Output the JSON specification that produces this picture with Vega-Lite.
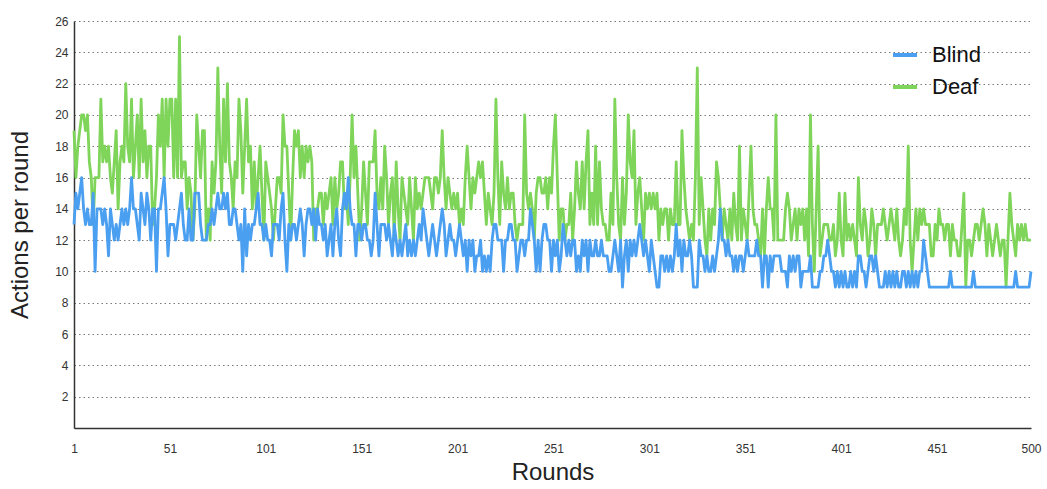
{
  "$schema": "https://vega.github.io/schema/vega-lite/v6.json",
  "width": 957,
  "height": 407,
  "autosize": {"type": "none"},
  "padding": {"left": 74, "top": 21, "right": 16, "bottom": 61},
  "background": "white",
  "config": {"view": {"stroke": null}, "font": "Liberation Sans"},
  "datasets": {
    "rounds": [
      {"r":1,"Blind":13,"Deaf":19},{"r":2,"Blind":15,"Deaf":16},{"r":3,"Blind":14,"Deaf":18},{"r":4,"Blind":15,"Deaf":19},{"r":5,"Blind":16,"Deaf":20},{"r":6,"Blind":14,"Deaf":20},{"r":7,"Blind":13,"Deaf":19},{"r":8,"Blind":14,"Deaf":20},{"r":9,"Blind":13,"Deaf":17},{"r":10,"Blind":13,"Deaf":16},
      {"r":11,"Blind":15,"Deaf":13},{"r":12,"Blind":10,"Deaf":16},{"r":13,"Blind":14,"Deaf":16},{"r":14,"Blind":14,"Deaf":16},{"r":15,"Blind":14,"Deaf":21},{"r":16,"Blind":13,"Deaf":17},{"r":17,"Blind":14,"Deaf":18},{"r":18,"Blind":13,"Deaf":17},{"r":19,"Blind":11,"Deaf":18},{"r":20,"Blind":14,"Deaf":16},
      {"r":21,"Blind":13,"Deaf":15},{"r":22,"Blind":12,"Deaf":17},{"r":23,"Blind":13,"Deaf":19},{"r":24,"Blind":12,"Deaf":14},{"r":25,"Blind":13,"Deaf":17},{"r":26,"Blind":14,"Deaf":18},{"r":27,"Blind":13,"Deaf":17},{"r":28,"Blind":14,"Deaf":22},{"r":29,"Blind":13,"Deaf":18},{"r":30,"Blind":14,"Deaf":17},
      {"r":31,"Blind":16,"Deaf":21},{"r":32,"Blind":14,"Deaf":16},{"r":33,"Blind":14,"Deaf":18},{"r":34,"Blind":13,"Deaf":20},{"r":35,"Blind":12,"Deaf":16},{"r":36,"Blind":15,"Deaf":21},{"r":37,"Blind":14,"Deaf":17},{"r":38,"Blind":13,"Deaf":19},{"r":39,"Blind":15,"Deaf":16},{"r":40,"Blind":14,"Deaf":18},
      {"r":41,"Blind":12,"Deaf":18},{"r":42,"Blind":14,"Deaf":13},{"r":43,"Blind":14,"Deaf":14},{"r":44,"Blind":10,"Deaf":16},{"r":45,"Blind":14,"Deaf":20},{"r":46,"Blind":14,"Deaf":18},{"r":47,"Blind":15,"Deaf":21},{"r":48,"Blind":16,"Deaf":16},{"r":49,"Blind":14,"Deaf":21},{"r":50,"Blind":11,"Deaf":18},
      {"r":51,"Blind":13,"Deaf":21},{"r":52,"Blind":13,"Deaf":21},{"r":53,"Blind":13,"Deaf":16},{"r":54,"Blind":12,"Deaf":21},{"r":55,"Blind":13,"Deaf":16},{"r":56,"Blind":14,"Deaf":25},{"r":57,"Blind":15,"Deaf":16},{"r":58,"Blind":13,"Deaf":17},{"r":59,"Blind":12,"Deaf":17},{"r":60,"Blind":12,"Deaf":14},
      {"r":61,"Blind":14,"Deaf":16},{"r":62,"Blind":12,"Deaf":15},{"r":63,"Blind":12,"Deaf":12},{"r":64,"Blind":15,"Deaf":14},{"r":65,"Blind":15,"Deaf":20},{"r":66,"Blind":15,"Deaf":18},{"r":67,"Blind":13,"Deaf":16},{"r":68,"Blind":12,"Deaf":19},{"r":69,"Blind":12,"Deaf":19},{"r":70,"Blind":12,"Deaf":12},
      {"r":71,"Blind":13,"Deaf":14},{"r":72,"Blind":13,"Deaf":12},{"r":73,"Blind":14,"Deaf":17},{"r":74,"Blind":13,"Deaf":15},{"r":75,"Blind":14,"Deaf":17},{"r":76,"Blind":15,"Deaf":23},{"r":77,"Blind":14,"Deaf":18},{"r":78,"Blind":14,"Deaf":15},{"r":79,"Blind":15,"Deaf":21},{"r":80,"Blind":14,"Deaf":17},
      {"r":81,"Blind":15,"Deaf":22},{"r":82,"Blind":13,"Deaf":17},{"r":83,"Blind":13,"Deaf":16},{"r":84,"Blind":14,"Deaf":14},{"r":85,"Blind":14,"Deaf":17},{"r":86,"Blind":13,"Deaf":16},{"r":87,"Blind":12,"Deaf":21},{"r":88,"Blind":13,"Deaf":19},{"r":89,"Blind":10,"Deaf":15},{"r":90,"Blind":14,"Deaf":18},
      {"r":91,"Blind":11,"Deaf":21},{"r":92,"Blind":13,"Deaf":17},{"r":93,"Blind":12,"Deaf":18},{"r":94,"Blind":13,"Deaf":14},{"r":95,"Blind":13,"Deaf":17},{"r":96,"Blind":14,"Deaf":14},{"r":97,"Blind":15,"Deaf":16},{"r":98,"Blind":13,"Deaf":18},{"r":99,"Blind":13,"Deaf":15},{"r":100,"Blind":12,"Deaf":12},
      {"r":101,"Blind":13,"Deaf":17},{"r":102,"Blind":12,"Deaf":16},{"r":103,"Blind":12,"Deaf":15},{"r":104,"Blind":11,"Deaf":14},{"r":105,"Blind":13,"Deaf":12},{"r":106,"Blind":13,"Deaf":14},{"r":107,"Blind":13,"Deaf":16},{"r":108,"Blind":12,"Deaf":16},{"r":109,"Blind":14,"Deaf":15},{"r":110,"Blind":15,"Deaf":20},
      {"r":111,"Blind":12,"Deaf":18},{"r":112,"Blind":10,"Deaf":18},{"r":113,"Blind":13,"Deaf":15},{"r":114,"Blind":12,"Deaf":12},{"r":115,"Blind":13,"Deaf":16},{"r":116,"Blind":13,"Deaf":19},{"r":117,"Blind":12,"Deaf":18},{"r":118,"Blind":13,"Deaf":19},{"r":119,"Blind":14,"Deaf":16},{"r":120,"Blind":13,"Deaf":18},
      {"r":121,"Blind":11,"Deaf":16},{"r":122,"Blind":13,"Deaf":18},{"r":123,"Blind":14,"Deaf":17},{"r":124,"Blind":14,"Deaf":18},{"r":125,"Blind":13,"Deaf":17},{"r":126,"Blind":14,"Deaf":12},{"r":127,"Blind":12,"Deaf":14},{"r":128,"Blind":14,"Deaf":14},{"r":129,"Blind":13,"Deaf":15},{"r":130,"Blind":13,"Deaf":15},
      {"r":131,"Blind":12,"Deaf":13},{"r":132,"Blind":13,"Deaf":15},{"r":133,"Blind":11,"Deaf":14},{"r":134,"Blind":12,"Deaf":15},{"r":135,"Blind":13,"Deaf":16},{"r":136,"Blind":11,"Deaf":13},{"r":137,"Blind":13,"Deaf":16},{"r":138,"Blind":14,"Deaf":14},{"r":139,"Blind":12,"Deaf":15},{"r":140,"Blind":11,"Deaf":17},
      {"r":141,"Blind":14,"Deaf":17},{"r":142,"Blind":15,"Deaf":14},{"r":143,"Blind":14,"Deaf":15},{"r":144,"Blind":16,"Deaf":13},{"r":145,"Blind":14,"Deaf":16},{"r":146,"Blind":13,"Deaf":20},{"r":147,"Blind":13,"Deaf":16},{"r":148,"Blind":11,"Deaf":18},{"r":149,"Blind":13,"Deaf":15},{"r":150,"Blind":13,"Deaf":12},
      {"r":151,"Blind":12,"Deaf":14},{"r":152,"Blind":13,"Deaf":17},{"r":153,"Blind":13,"Deaf":15},{"r":154,"Blind":12,"Deaf":13},{"r":155,"Blind":12,"Deaf":17},{"r":156,"Blind":11,"Deaf":17},{"r":157,"Blind":12,"Deaf":17},{"r":158,"Blind":15,"Deaf":19},{"r":159,"Blind":13,"Deaf":15},{"r":160,"Blind":11,"Deaf":14},
      {"r":161,"Blind":13,"Deaf":16},{"r":162,"Blind":13,"Deaf":14},{"r":163,"Blind":13,"Deaf":18},{"r":164,"Blind":12,"Deaf":16},{"r":165,"Blind":13,"Deaf":13},{"r":166,"Blind":12,"Deaf":15},{"r":167,"Blind":11,"Deaf":16},{"r":168,"Blind":13,"Deaf":12},{"r":169,"Blind":12,"Deaf":17},{"r":170,"Blind":11,"Deaf":14},
      {"r":171,"Blind":12,"Deaf":12},{"r":172,"Blind":11,"Deaf":16},{"r":173,"Blind":12,"Deaf":15},{"r":174,"Blind":13,"Deaf":14},{"r":175,"Blind":11,"Deaf":13},{"r":176,"Blind":12,"Deaf":16},{"r":177,"Blind":11,"Deaf":14},{"r":178,"Blind":12,"Deaf":12},{"r":179,"Blind":11,"Deaf":16},{"r":180,"Blind":12,"Deaf":14},
      {"r":181,"Blind":13,"Deaf":15},{"r":182,"Blind":12,"Deaf":14},{"r":183,"Blind":14,"Deaf":15},{"r":184,"Blind":13,"Deaf":16},{"r":185,"Blind":12,"Deaf":16},{"r":186,"Blind":11,"Deaf":16},{"r":187,"Blind":12,"Deaf":15},{"r":188,"Blind":13,"Deaf":14},{"r":189,"Blind":12,"Deaf":16},{"r":190,"Blind":11,"Deaf":16},
      {"r":191,"Blind":12,"Deaf":15},{"r":192,"Blind":13,"Deaf":16},{"r":193,"Blind":14,"Deaf":19},{"r":194,"Blind":13,"Deaf":16},{"r":195,"Blind":11,"Deaf":14},{"r":196,"Blind":12,"Deaf":16},{"r":197,"Blind":13,"Deaf":15},{"r":198,"Blind":12,"Deaf":14},{"r":199,"Blind":12,"Deaf":15},{"r":200,"Blind":11,"Deaf":14},
      {"r":201,"Blind":12,"Deaf":15},{"r":202,"Blind":13,"Deaf":13},{"r":203,"Blind":12,"Deaf":14},{"r":204,"Blind":11,"Deaf":13},{"r":205,"Blind":12,"Deaf":16},{"r":206,"Blind":10,"Deaf":18},{"r":207,"Blind":12,"Deaf":16},{"r":208,"Blind":11,"Deaf":14},{"r":209,"Blind":12,"Deaf":16},{"r":210,"Blind":10,"Deaf":15},
      {"r":211,"Blind":11,"Deaf":16},{"r":212,"Blind":11,"Deaf":17},{"r":213,"Blind":12,"Deaf":16},{"r":214,"Blind":10,"Deaf":17},{"r":215,"Blind":11,"Deaf":15},{"r":216,"Blind":10,"Deaf":13},{"r":217,"Blind":11,"Deaf":15},{"r":218,"Blind":10,"Deaf":14},{"r":219,"Blind":12,"Deaf":13},{"r":220,"Blind":13,"Deaf":15},
      {"r":221,"Blind":13,"Deaf":21},{"r":222,"Blind":12,"Deaf":16},{"r":223,"Blind":12,"Deaf":13},{"r":224,"Blind":12,"Deaf":17},{"r":225,"Blind":10,"Deaf":15},{"r":226,"Blind":12,"Deaf":14},{"r":227,"Blind":12,"Deaf":16},{"r":228,"Blind":13,"Deaf":14},{"r":229,"Blind":13,"Deaf":15},{"r":230,"Blind":12,"Deaf":15},
      {"r":231,"Blind":12,"Deaf":13},{"r":232,"Blind":10,"Deaf":12},{"r":233,"Blind":11,"Deaf":13},{"r":234,"Blind":12,"Deaf":13},{"r":235,"Blind":12,"Deaf":13},{"r":236,"Blind":11,"Deaf":20},{"r":237,"Blind":12,"Deaf":15},{"r":238,"Blind":12,"Deaf":14},{"r":239,"Blind":14,"Deaf":15},{"r":240,"Blind":13,"Deaf":14},
      {"r":241,"Blind":12,"Deaf":12},{"r":242,"Blind":10,"Deaf":15},{"r":243,"Blind":12,"Deaf":16},{"r":244,"Blind":10,"Deaf":16},{"r":245,"Blind":12,"Deaf":15},{"r":246,"Blind":13,"Deaf":15},{"r":247,"Blind":13,"Deaf":16},{"r":248,"Blind":12,"Deaf":14},{"r":249,"Blind":12,"Deaf":16},{"r":250,"Blind":10,"Deaf":15},
      {"r":251,"Blind":12,"Deaf":18},{"r":252,"Blind":11,"Deaf":20},{"r":253,"Blind":12,"Deaf":16},{"r":254,"Blind":10,"Deaf":12},{"r":255,"Blind":11,"Deaf":14},{"r":256,"Blind":13,"Deaf":14},{"r":257,"Blind":12,"Deaf":12},{"r":258,"Blind":11,"Deaf":13},{"r":259,"Blind":12,"Deaf":13},{"r":260,"Blind":11,"Deaf":15},
      {"r":261,"Blind":12,"Deaf":12},{"r":262,"Blind":12,"Deaf":14},{"r":263,"Blind":10,"Deaf":17},{"r":264,"Blind":11,"Deaf":15},{"r":265,"Blind":10,"Deaf":14},{"r":266,"Blind":12,"Deaf":17},{"r":267,"Blind":11,"Deaf":14},{"r":268,"Blind":12,"Deaf":17},{"r":269,"Blind":10,"Deaf":19},{"r":270,"Blind":12,"Deaf":13},
      {"r":271,"Blind":11,"Deaf":15},{"r":272,"Blind":11,"Deaf":13},{"r":273,"Blind":12,"Deaf":18},{"r":274,"Blind":11,"Deaf":13},{"r":275,"Blind":11,"Deaf":17},{"r":276,"Blind":12,"Deaf":14},{"r":277,"Blind":11,"Deaf":13},{"r":278,"Blind":11,"Deaf":13},{"r":279,"Blind":11,"Deaf":12},{"r":280,"Blind":10,"Deaf":12},
      {"r":281,"Blind":10,"Deaf":15},{"r":282,"Blind":11,"Deaf":13},{"r":283,"Blind":12,"Deaf":21},{"r":284,"Blind":11,"Deaf":16},{"r":285,"Blind":10,"Deaf":13},{"r":286,"Blind":12,"Deaf":12},{"r":287,"Blind":9,"Deaf":16},{"r":288,"Blind":11,"Deaf":13},{"r":289,"Blind":12,"Deaf":15},{"r":290,"Blind":10,"Deaf":20},
      {"r":291,"Blind":12,"Deaf":17},{"r":292,"Blind":11,"Deaf":16},{"r":293,"Blind":12,"Deaf":19},{"r":294,"Blind":11,"Deaf":13},{"r":295,"Blind":12,"Deaf":15},{"r":296,"Blind":13,"Deaf":16},{"r":297,"Blind":12,"Deaf":14},{"r":298,"Blind":11,"Deaf":12},{"r":299,"Blind":12,"Deaf":15},{"r":300,"Blind":11,"Deaf":14},
      {"r":301,"Blind":10,"Deaf":15},{"r":302,"Blind":12,"Deaf":14},{"r":303,"Blind":11,"Deaf":15},{"r":304,"Blind":10,"Deaf":14},{"r":305,"Blind":9,"Deaf":15},{"r":306,"Blind":9,"Deaf":12},{"r":307,"Blind":11,"Deaf":14},{"r":308,"Blind":11,"Deaf":13},{"r":309,"Blind":10,"Deaf":14},{"r":310,"Blind":11,"Deaf":14},
      {"r":311,"Blind":10,"Deaf":12},{"r":312,"Blind":11,"Deaf":14},{"r":313,"Blind":10,"Deaf":13},{"r":314,"Blind":11,"Deaf":13},{"r":315,"Blind":13,"Deaf":17},{"r":316,"Blind":11,"Deaf":13},{"r":317,"Blind":12,"Deaf":13},{"r":318,"Blind":10,"Deaf":19},{"r":319,"Blind":12,"Deaf":16},{"r":320,"Blind":11,"Deaf":14},
      {"r":321,"Blind":11,"Deaf":13},{"r":322,"Blind":12,"Deaf":12},{"r":323,"Blind":11,"Deaf":13},{"r":324,"Blind":9,"Deaf":12},{"r":325,"Blind":9,"Deaf":16},{"r":326,"Blind":9,"Deaf":23},{"r":327,"Blind":12,"Deaf":13},{"r":328,"Blind":11,"Deaf":16},{"r":329,"Blind":11,"Deaf":14},{"r":330,"Blind":10,"Deaf":12},
      {"r":331,"Blind":11,"Deaf":11},{"r":332,"Blind":10,"Deaf":14},{"r":333,"Blind":10,"Deaf":12},{"r":334,"Blind":11,"Deaf":14},{"r":335,"Blind":10,"Deaf":13},{"r":336,"Blind":11,"Deaf":17},{"r":337,"Blind":12,"Deaf":16},{"r":338,"Blind":14,"Deaf":14},{"r":339,"Blind":12,"Deaf":12},{"r":340,"Blind":12,"Deaf":14},
      {"r":341,"Blind":11,"Deaf":13},{"r":342,"Blind":12,"Deaf":12},{"r":343,"Blind":11,"Deaf":14},{"r":344,"Blind":11,"Deaf":12},{"r":345,"Blind":10,"Deaf":15},{"r":346,"Blind":11,"Deaf":13},{"r":347,"Blind":10,"Deaf":12},{"r":348,"Blind":11,"Deaf":18},{"r":349,"Blind":11,"Deaf":12},{"r":350,"Blind":10,"Deaf":14},
      {"r":351,"Blind":11,"Deaf":13},{"r":352,"Blind":12,"Deaf":12},{"r":353,"Blind":11,"Deaf":15},{"r":354,"Blind":11,"Deaf":18},{"r":355,"Blind":11,"Deaf":14},{"r":356,"Blind":11,"Deaf":13},{"r":357,"Blind":12,"Deaf":13},{"r":358,"Blind":11,"Deaf":12},{"r":359,"Blind":11,"Deaf":11},{"r":360,"Blind":9,"Deaf":14},
      {"r":361,"Blind":11,"Deaf":11},{"r":362,"Blind":11,"Deaf":14},{"r":363,"Blind":9,"Deaf":16},{"r":364,"Blind":11,"Deaf":14},{"r":365,"Blind":10,"Deaf":14},{"r":366,"Blind":11,"Deaf":12},{"r":367,"Blind":11,"Deaf":20},{"r":368,"Blind":11,"Deaf":12},{"r":369,"Blind":11,"Deaf":12},{"r":370,"Blind":10,"Deaf":12},
      {"r":371,"Blind":10,"Deaf":12},{"r":372,"Blind":10,"Deaf":14},{"r":373,"Blind":9,"Deaf":15},{"r":374,"Blind":11,"Deaf":14},{"r":375,"Blind":10,"Deaf":12},{"r":376,"Blind":11,"Deaf":13},{"r":377,"Blind":10,"Deaf":14},{"r":378,"Blind":11,"Deaf":12},{"r":379,"Blind":11,"Deaf":14},{"r":380,"Blind":9,"Deaf":13},
      {"r":381,"Blind":10,"Deaf":14},{"r":382,"Blind":10,"Deaf":12},{"r":383,"Blind":10,"Deaf":14},{"r":384,"Blind":10,"Deaf":11},{"r":385,"Blind":11,"Deaf":20},{"r":386,"Blind":9,"Deaf":13},{"r":387,"Blind":9,"Deaf":10},{"r":388,"Blind":9,"Deaf":14},{"r":389,"Blind":9,"Deaf":18},{"r":390,"Blind":10,"Deaf":11},
      {"r":391,"Blind":10,"Deaf":12},{"r":392,"Blind":11,"Deaf":13},{"r":393,"Blind":11,"Deaf":13},{"r":394,"Blind":12,"Deaf":13},{"r":395,"Blind":11,"Deaf":12},{"r":396,"Blind":10,"Deaf":12},{"r":397,"Blind":10,"Deaf":13},{"r":398,"Blind":9,"Deaf":11},{"r":399,"Blind":10,"Deaf":12},{"r":400,"Blind":9,"Deaf":15},
      {"r":401,"Blind":10,"Deaf":12},{"r":402,"Blind":9,"Deaf":11},{"r":403,"Blind":10,"Deaf":15},{"r":404,"Blind":9,"Deaf":12},{"r":405,"Blind":9,"Deaf":13},{"r":406,"Blind":10,"Deaf":12},{"r":407,"Blind":9,"Deaf":13},{"r":408,"Blind":10,"Deaf":12},{"r":409,"Blind":9,"Deaf":11},{"r":410,"Blind":11,"Deaf":16},
      {"r":411,"Blind":11,"Deaf":13},{"r":412,"Blind":10,"Deaf":12},{"r":413,"Blind":10,"Deaf":14},{"r":414,"Blind":9,"Deaf":13},{"r":415,"Blind":10,"Deaf":11},{"r":416,"Blind":11,"Deaf":12},{"r":417,"Blind":11,"Deaf":14},{"r":418,"Blind":10,"Deaf":13},{"r":419,"Blind":11,"Deaf":11},{"r":420,"Blind":10,"Deaf":13},
      {"r":421,"Blind":9,"Deaf":13},{"r":422,"Blind":9,"Deaf":13},{"r":423,"Blind":9,"Deaf":14},{"r":424,"Blind":10,"Deaf":13},{"r":425,"Blind":9,"Deaf":12},{"r":426,"Blind":10,"Deaf":13},{"r":427,"Blind":9,"Deaf":14},{"r":428,"Blind":10,"Deaf":13},{"r":429,"Blind":9,"Deaf":12},{"r":430,"Blind":10,"Deaf":14},
      {"r":431,"Blind":9,"Deaf":12},{"r":432,"Blind":9,"Deaf":11},{"r":433,"Blind":10,"Deaf":12},{"r":434,"Blind":10,"Deaf":14},{"r":435,"Blind":9,"Deaf":13},{"r":436,"Blind":10,"Deaf":18},{"r":437,"Blind":9,"Deaf":12},{"r":438,"Blind":10,"Deaf":10},{"r":439,"Blind":9,"Deaf":12},{"r":440,"Blind":10,"Deaf":14},
      {"r":441,"Blind":9,"Deaf":12},{"r":442,"Blind":10,"Deaf":14},{"r":443,"Blind":10,"Deaf":13},{"r":444,"Blind":12,"Deaf":14},{"r":445,"Blind":11,"Deaf":13},{"r":446,"Blind":10,"Deaf":13},{"r":447,"Blind":9,"Deaf":13},{"r":448,"Blind":9,"Deaf":11},{"r":449,"Blind":9,"Deaf":11},{"r":450,"Blind":9,"Deaf":13},
      {"r":451,"Blind":9,"Deaf":12},{"r":452,"Blind":9,"Deaf":14},{"r":453,"Blind":9,"Deaf":13},{"r":454,"Blind":9,"Deaf":13},{"r":455,"Blind":9,"Deaf":12},{"r":456,"Blind":9,"Deaf":13},{"r":457,"Blind":9,"Deaf":13},{"r":458,"Blind":10,"Deaf":11},{"r":459,"Blind":9,"Deaf":13},{"r":460,"Blind":9,"Deaf":12},
      {"r":461,"Blind":9,"Deaf":12},{"r":462,"Blind":9,"Deaf":11},{"r":463,"Blind":9,"Deaf":11},{"r":464,"Blind":9,"Deaf":13},{"r":465,"Blind":9,"Deaf":15},{"r":466,"Blind":9,"Deaf":9},{"r":467,"Blind":9,"Deaf":12},{"r":468,"Blind":9,"Deaf":12},{"r":469,"Blind":9,"Deaf":11},{"r":470,"Blind":10,"Deaf":12},
      {"r":471,"Blind":9,"Deaf":13},{"r":472,"Blind":9,"Deaf":13},{"r":473,"Blind":9,"Deaf":12},{"r":474,"Blind":9,"Deaf":13},{"r":475,"Blind":9,"Deaf":14},{"r":476,"Blind":9,"Deaf":13},{"r":477,"Blind":9,"Deaf":11},{"r":478,"Blind":9,"Deaf":13},{"r":479,"Blind":9,"Deaf":12},{"r":480,"Blind":9,"Deaf":11},
      {"r":481,"Blind":9,"Deaf":12},{"r":482,"Blind":9,"Deaf":13},{"r":483,"Blind":9,"Deaf":12},{"r":484,"Blind":9,"Deaf":11},{"r":485,"Blind":9,"Deaf":12},{"r":486,"Blind":9,"Deaf":12},{"r":487,"Blind":9,"Deaf":9},{"r":488,"Blind":9,"Deaf":12},{"r":489,"Blind":9,"Deaf":15},{"r":490,"Blind":9,"Deaf":13},
      {"r":491,"Blind":9,"Deaf":12},{"r":492,"Blind":10,"Deaf":11},{"r":493,"Blind":9,"Deaf":13},{"r":494,"Blind":9,"Deaf":12},{"r":495,"Blind":9,"Deaf":13},{"r":496,"Blind":9,"Deaf":12},{"r":497,"Blind":9,"Deaf":13},{"r":498,"Blind":9,"Deaf":12},{"r":499,"Blind":9,"Deaf":12},{"r":500,"Blind":10,"Deaf":12}
    ]
  },
  "data": {"name": "rounds"},
  "transform": [{"fold": ["Deaf", "Blind"], "as": ["series", "value"]}],
  "mark": {"type": "line", "strokeWidth": 2.8, "strokeJoin": "round"},
  "encoding": {
    "x": {
      "field": "r",
      "type": "quantitative",
      "scale": {"domain": [1, 500], "nice": false, "zero": false},
      "axis": {
        "values": [1, 51, 101, 151, 201, 251, 301, 351, 401, 451, 500],
        "grid": false,
        "ticks": false,
        "domainColor": "#333333",
        "domainWidth": 1.5,
        "labelFontSize": 12,
        "labelColor": "#333333",
        "labelPadding": 15,
        "labelFlush": false,
        "title": "Rounds",
        "titleFontSize": 24,
        "titleFontWeight": "normal",
        "titleColor": "#222222",
        "titlePadding": 6
      }
    },
    "y": {
      "field": "value",
      "type": "quantitative",
      "scale": {"domain": [0, 26], "nice": false},
      "axis": {
        "values": [0, 2, 4, 6, 8, 10, 12, 14, 16, 18, 20, 22, 24, 26],
        "grid": true,
        "gridDash": [1.5, 3],
        "gridColor": "#7a7a7a",
        "gridWidth": 1.2,
        "ticks": false,
        "domainColor": "#333333",
        "domainWidth": 1.5,
        "labelExpr": "datum.value == 0 ? '' : datum.label",
        "labelFontSize": 12,
        "labelColor": "#333333",
        "labelPadding": 6,
        "title": "Actions per round",
        "titleFontSize": 24,
        "titleFontWeight": "normal",
        "titleColor": "#222222",
        "titlePadding": 22,
        "zindex": 0
      }
    },
    "color": {
      "field": "series",
      "type": "nominal",
      "scale": {"domain": ["Blind", "Deaf"], "range": ["#4a9ff0", "#7fd45a"]},
      "legend": {
        "title": null,
        "orient": "none",
        "legendX": 817,
        "legendY": 20,
        "padding": 0,
        "zindex": 2,
        "symbolType": "stroke",
        "symbolSize": 576,
        "symbolStrokeWidth": 4,
        "symbolOpacity": 1,
        "symbolDash": [],
        "labelFontSize": 22,
        "labelColor": "#111111",
        "labelOffset": 13,
        "rowPadding": 7
      }
    }
  }
}
